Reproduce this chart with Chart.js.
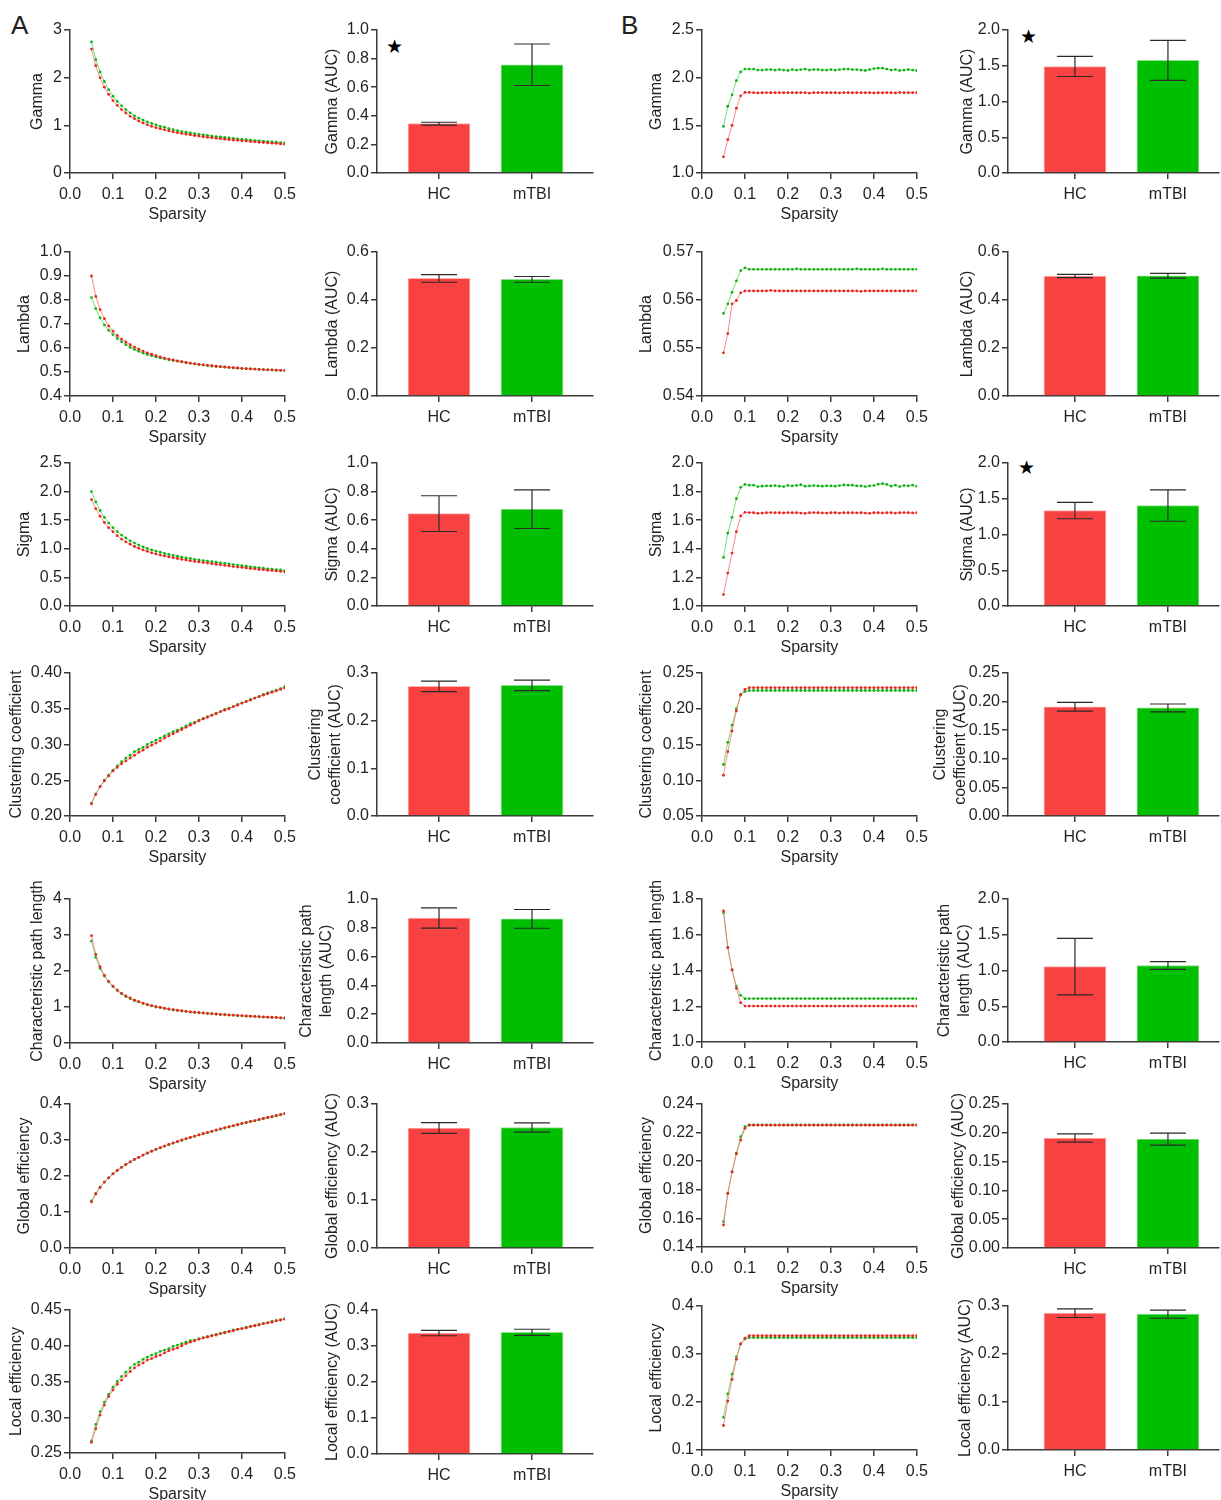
<!DOCTYPE html>
<html lang="en">
<head>
<meta charset="UTF-8">
<title>Network metrics across sparsity</title>
<style>
  body { margin: 0; background: #fff; font-family: "Liberation Sans", Arial, sans-serif; }
  #wrap { position: relative; width: 1221px; height: 1500px; overflow: hidden; }
  #wrap canvas { position: absolute; }
  .panel { position: absolute; font-size: 26px; color: #231f20; line-height: 1; }
  .star { position: absolute; font-size: 19px; color: #000; line-height: 1; font-family: "DejaVu Sans", sans-serif; }
</style>
</head>
<body>
<div id="wrap">
  <div class="panel" style="left:11px;top:12px;">A</div>
  <div class="panel" style="left:621px;top:12px;">B</div>
  <div class="star" style="left:386px;top:37px;">★</div>
  <div class="star" style="left:1020px;top:27px;">★</div>
  <div class="star" style="left:1018px;top:458px;">★</div>
</div>
<script src="https://cdn.jsdelivr.net/npm/chart.js"></script>
<script>
// ---- data ----
const sparsity = [
  0.05, 0.06, 0.07, 0.08, 0.09, 0.10, 0.11, 0.12, 0.13, 0.14,
  0.15, 0.16, 0.17, 0.18, 0.19, 0.20, 0.21, 0.22, 0.23, 0.24,
  0.25, 0.26, 0.27, 0.28, 0.29, 0.30, 0.31, 0.32, 0.33, 0.34,
  0.35, 0.36, 0.37, 0.38, 0.39, 0.40, 0.41, 0.42, 0.43, 0.44,
  0.45, 0.46, 0.47, 0.48, 0.49, 0.50
];
const groups = ['HC', 'mTBI'];

// panel A curves
const gammaHC_A = [
  2.60, 2.25, 2.00, 1.80, 1.65, 1.52, 1.42, 1.33, 1.26, 1.19,
  1.14, 1.09, 1.05, 1.01, 0.98, 0.95, 0.93, 0.905, 0.885, 0.865,
  0.845, 0.83, 0.815, 0.80, 0.785, 0.775, 0.76, 0.75, 0.74, 0.73,
  0.72, 0.71, 0.70, 0.69, 0.685, 0.675, 0.67, 0.66, 0.655, 0.645,
  0.64, 0.63, 0.625, 0.62, 0.61, 0.605
];
const gammaTBI_A = [
  2.75, 2.38, 2.12, 1.92, 1.75, 1.61, 1.50, 1.41, 1.33, 1.26,
  1.20, 1.15, 1.11, 1.07, 1.04, 1.01, 0.98, 0.96, 0.93, 0.91,
  0.89, 0.87, 0.855, 0.84, 0.825, 0.81, 0.80, 0.79, 0.775, 0.765,
  0.755, 0.745, 0.735, 0.725, 0.715, 0.705, 0.70, 0.69, 0.68, 0.675,
  0.665, 0.66, 0.65, 0.645, 0.635, 0.63
];
const lambdaHC_A = [
  0.90, 0.815, 0.76, 0.722, 0.692, 0.67, 0.652, 0.637, 0.625, 0.614,
  0.604, 0.595, 0.587, 0.58, 0.574, 0.568, 0.563, 0.558, 0.554, 0.55,
  0.546, 0.543, 0.54, 0.537, 0.534, 0.532, 0.53, 0.528, 0.526, 0.524,
  0.522, 0.521, 0.519, 0.518, 0.517, 0.515, 0.514, 0.513, 0.512, 0.511,
  0.51, 0.509, 0.509, 0.508, 0.507, 0.507
];
const lambdaTBI_A = [
  0.81, 0.764, 0.726, 0.696, 0.674, 0.656, 0.64, 0.626, 0.614, 0.603,
  0.594, 0.586, 0.579, 0.573, 0.568, 0.563, 0.559, 0.555, 0.551, 0.548,
  0.545, 0.542, 0.539, 0.536, 0.534, 0.531, 0.529, 0.527, 0.525, 0.523,
  0.522, 0.52, 0.519, 0.517, 0.516, 0.515, 0.514, 0.513, 0.512, 0.511,
  0.51, 0.509, 0.508, 0.507, 0.507, 0.506
];
const sigmaHC_A = [
  1.86, 1.70, 1.57, 1.46, 1.37, 1.30, 1.23, 1.17, 1.12, 1.08,
  1.04, 1.01, 0.98, 0.955, 0.93, 0.91, 0.89, 0.875, 0.86, 0.845,
  0.83, 0.815, 0.805, 0.79, 0.78, 0.77, 0.76, 0.75, 0.74, 0.73,
  0.72, 0.71, 0.70, 0.69, 0.68, 0.675, 0.665, 0.655, 0.65, 0.64,
  0.635, 0.625, 0.62, 0.61, 0.605, 0.595
];
const sigmaTBI_A = [
  2.00, 1.82, 1.67, 1.55, 1.45, 1.37, 1.30, 1.24, 1.19, 1.14,
  1.10, 1.065, 1.035, 1.005, 0.98, 0.96, 0.94, 0.92, 0.90, 0.885,
  0.87, 0.855, 0.84, 0.83, 0.815, 0.805, 0.795, 0.785, 0.775, 0.765,
  0.755, 0.745, 0.735, 0.725, 0.715, 0.705, 0.695, 0.685, 0.675, 0.67,
  0.66, 0.65, 0.645, 0.635, 0.63, 0.62
];
const clustHC_A = [
  0.217, 0.230, 0.241, 0.249, 0.256, 0.263, 0.268, 0.273, 0.277, 0.281,
  0.285, 0.289, 0.292, 0.296, 0.299, 0.302, 0.305, 0.309, 0.312, 0.315,
  0.318, 0.321, 0.324, 0.327, 0.330, 0.333, 0.336, 0.338, 0.341, 0.343,
  0.346, 0.348, 0.350, 0.353, 0.355, 0.358, 0.360, 0.362, 0.365, 0.367,
  0.369, 0.371, 0.373, 0.375, 0.377, 0.379
];
const clustTBI_A = [
  0.218, 0.231, 0.241, 0.250, 0.257, 0.264, 0.270, 0.276, 0.281, 0.285,
  0.290, 0.293, 0.296, 0.300, 0.303, 0.306, 0.309, 0.312, 0.315, 0.318,
  0.320, 0.323, 0.326, 0.329, 0.331, 0.334, 0.336, 0.339, 0.341, 0.344,
  0.346, 0.349, 0.351, 0.353, 0.356, 0.358, 0.360, 0.363, 0.365, 0.367,
  0.370, 0.372, 0.374, 0.376, 0.378, 0.381
];
const cplHC_A = [
  2.98, 2.46, 2.12, 1.88, 1.71, 1.58, 1.47, 1.38, 1.31, 1.25,
  1.19, 1.15, 1.11, 1.07, 1.04, 1.01, 0.99, 0.965, 0.945, 0.925,
  0.91, 0.895, 0.88, 0.865, 0.855, 0.845, 0.835, 0.825, 0.815, 0.805,
  0.795, 0.79, 0.78, 0.775, 0.765, 0.76, 0.75, 0.745, 0.74, 0.73,
  0.725, 0.72, 0.715, 0.71, 0.70, 0.695
];
const cplTBI_A = [
  2.83, 2.38, 2.07, 1.86, 1.70, 1.57, 1.46, 1.37, 1.29, 1.23,
  1.18, 1.14, 1.10, 1.06, 1.03, 1.00, 0.985, 0.96, 0.94, 0.92,
  0.905, 0.89, 0.875, 0.86, 0.85, 0.84, 0.83, 0.82, 0.81, 0.80,
  0.79, 0.785, 0.775, 0.77, 0.76, 0.755, 0.745, 0.74, 0.735, 0.725,
  0.72, 0.715, 0.71, 0.705, 0.695, 0.69
];
const geHC_A = [
  0.128, 0.150, 0.168, 0.183, 0.195, 0.206, 0.216, 0.224, 0.232, 0.239,
  0.246, 0.252, 0.258, 0.264, 0.269, 0.274, 0.279, 0.283, 0.288, 0.292,
  0.296, 0.300, 0.304, 0.307, 0.311, 0.314, 0.318, 0.321, 0.324, 0.328,
  0.331, 0.334, 0.337, 0.340, 0.343, 0.346, 0.349, 0.352, 0.354, 0.357,
  0.360, 0.363, 0.365, 0.368, 0.371, 0.373
];
const geTBI_A = [
  0.131, 0.152, 0.169, 0.183, 0.195, 0.206, 0.215, 0.224, 0.232, 0.239,
  0.246, 0.252, 0.258, 0.263, 0.269, 0.274, 0.278, 0.283, 0.287, 0.291,
  0.295, 0.299, 0.303, 0.307, 0.310, 0.314, 0.317, 0.320, 0.324, 0.327,
  0.330, 0.333, 0.336, 0.339, 0.342, 0.345, 0.348, 0.351, 0.353, 0.356,
  0.359, 0.362, 0.364, 0.367, 0.370, 0.373
];
const leHC_A = [
  0.265, 0.284, 0.303, 0.317, 0.329, 0.338, 0.346, 0.352, 0.358, 0.364,
  0.369, 0.373, 0.376, 0.380, 0.382, 0.385, 0.387, 0.390, 0.393, 0.395,
  0.397, 0.400, 0.403, 0.405, 0.407, 0.409, 0.411, 0.412, 0.414, 0.415,
  0.417, 0.418, 0.420, 0.421, 0.423, 0.424, 0.425, 0.427, 0.428, 0.429,
  0.431, 0.432, 0.433, 0.435, 0.436, 0.437
];
const leTBI_A = [
  0.267, 0.290, 0.308, 0.321, 0.332, 0.342, 0.350, 0.357, 0.363, 0.369,
  0.374, 0.377, 0.381, 0.384, 0.387, 0.389, 0.392, 0.394, 0.396, 0.399,
  0.401, 0.403, 0.405, 0.407, 0.408, 0.410, 0.411, 0.413, 0.414, 0.416,
  0.417, 0.419, 0.420, 0.422, 0.423, 0.424, 0.426, 0.427, 0.428, 0.430,
  0.431, 0.432, 0.434, 0.435, 0.436, 0.438
];

// panel B curves
const gammaHC_B = [
  1.17, 1.35, 1.50, 1.68, 1.81, 1.845, 1.845, 1.843, 1.84, 1.842,
  1.843, 1.842, 1.843, 1.843, 1.842, 1.843, 1.843, 1.842, 1.843, 1.843,
  1.838, 1.843, 1.843, 1.843, 1.842, 1.843, 1.842, 1.84, 1.843, 1.843,
  1.842, 1.842, 1.843, 1.842, 1.842, 1.84, 1.842, 1.842, 1.843, 1.842,
  1.84, 1.845, 1.843, 1.843, 1.843, 1.843
];
const gammaTBI_B = [
  1.49, 1.70, 1.82, 1.97, 2.06, 2.09, 2.09, 2.09, 2.08, 2.08,
  2.085, 2.085, 2.08, 2.085, 2.08, 2.075, 2.085, 2.08, 2.085, 2.09,
  2.08, 2.085, 2.085, 2.08, 2.08, 2.085, 2.08, 2.085, 2.09, 2.09,
  2.085, 2.085, 2.08, 2.075, 2.085, 2.095, 2.10, 2.10, 2.09, 2.08,
  2.085, 2.075, 2.08, 2.085, 2.08, 2.075
];
const lambdaHC_B = [
  0.5490, 0.5530, 0.5592, 0.5599, 0.5615, 0.5619, 0.5619, 0.5619, 0.5619, 0.5619,
  0.5619, 0.5620, 0.5619, 0.5619, 0.5619, 0.5619, 0.5619, 0.5619, 0.5619, 0.5619,
  0.5619, 0.5619, 0.5619, 0.5619, 0.5619, 0.5619, 0.5619, 0.5619, 0.5619, 0.5619,
  0.5619, 0.5619, 0.5618, 0.5619, 0.5619, 0.5619, 0.5619, 0.5619, 0.5619, 0.5619,
  0.5619, 0.5619, 0.5619, 0.5619, 0.5619, 0.5619
];
const lambdaTBI_B = [
  0.5572, 0.5592, 0.5616, 0.5640, 0.5661, 0.5667, 0.5664, 0.5664, 0.5664, 0.5664,
  0.5664, 0.5664, 0.5664, 0.5664, 0.5664, 0.5664, 0.5664, 0.5665, 0.5664, 0.5664,
  0.5664, 0.5664, 0.5664, 0.5664, 0.5664, 0.5664, 0.5664, 0.5664, 0.5664, 0.5664,
  0.5664, 0.5665, 0.5664, 0.5664, 0.5664, 0.5664, 0.5664, 0.5665, 0.5664, 0.5664,
  0.5664, 0.5664, 0.5664, 0.5664, 0.5664, 0.5664
];
const sigmaHC_B = [
  1.08, 1.23, 1.37, 1.52, 1.63, 1.655, 1.653, 1.652, 1.648, 1.65,
  1.652, 1.653, 1.652, 1.652, 1.651, 1.653, 1.652, 1.652, 1.65, 1.648,
  1.652, 1.653, 1.652, 1.651, 1.65, 1.652, 1.652, 1.65, 1.652, 1.652,
  1.652, 1.651, 1.652, 1.65, 1.648, 1.652, 1.652, 1.651, 1.652, 1.652,
  1.65, 1.652, 1.653, 1.652, 1.651, 1.652
];
const sigmaTBI_B = [
  1.34, 1.51, 1.62, 1.75, 1.83, 1.85, 1.845, 1.845, 1.835, 1.838,
  1.84, 1.84, 1.842, 1.838, 1.835, 1.843, 1.84, 1.843, 1.848, 1.838,
  1.84, 1.842, 1.84, 1.838, 1.84, 1.84, 1.838, 1.842, 1.846, 1.845,
  1.845, 1.84, 1.84, 1.835, 1.84, 1.842, 1.852, 1.855, 1.85, 1.838,
  1.845, 1.835, 1.842, 1.84, 1.845, 1.838
];
const clustHC_B = [
  0.107, 0.140, 0.169, 0.197, 0.220, 0.227, 0.2295, 0.2295, 0.2295, 0.2295,
  0.2295, 0.2295, 0.2295, 0.2295, 0.2295, 0.2295, 0.2295, 0.2295, 0.2295, 0.2295,
  0.2295, 0.2295, 0.2295, 0.2295, 0.2295, 0.2295, 0.2295, 0.2295, 0.2295, 0.2295,
  0.2295, 0.2295, 0.2295, 0.2295, 0.2295, 0.2295, 0.2295, 0.2295, 0.2295, 0.2295,
  0.2295, 0.2295, 0.2295, 0.2295, 0.2295, 0.2295
];
const clustTBI_B = [
  0.122, 0.153, 0.177, 0.200, 0.219, 0.224, 0.2255, 0.2255, 0.2255, 0.2255,
  0.2255, 0.2255, 0.2255, 0.2255, 0.2255, 0.2255, 0.2255, 0.2255, 0.2255, 0.2255,
  0.2255, 0.2255, 0.2255, 0.2255, 0.2255, 0.2255, 0.2255, 0.2255, 0.2255, 0.2255,
  0.2255, 0.2255, 0.2255, 0.2255, 0.2255, 0.2255, 0.2255, 0.2255, 0.2255, 0.2255,
  0.2255, 0.2255, 0.2255, 0.2255, 0.2255, 0.2255
];
const cplHC_B = [
  1.734, 1.528, 1.403, 1.300, 1.220, 1.201, 1.201, 1.201, 1.201, 1.201,
  1.201, 1.201, 1.201, 1.201, 1.201, 1.201, 1.201, 1.201, 1.201, 1.201,
  1.201, 1.201, 1.201, 1.201, 1.201, 1.201, 1.201, 1.201, 1.201, 1.201,
  1.201, 1.201, 1.201, 1.201, 1.201, 1.201, 1.201, 1.201, 1.201, 1.201,
  1.201, 1.201, 1.201, 1.201, 1.201, 1.201
];
const cplTBI_B = [
  1.723, 1.528, 1.403, 1.313, 1.261, 1.242, 1.243, 1.243, 1.243, 1.243,
  1.243, 1.243, 1.243, 1.243, 1.243, 1.243, 1.243, 1.243, 1.243, 1.243,
  1.243, 1.243, 1.243, 1.243, 1.243, 1.243, 1.243, 1.243, 1.243, 1.243,
  1.243, 1.243, 1.243, 1.243, 1.243, 1.243, 1.243, 1.243, 1.243, 1.243,
  1.243, 1.243, 1.243, 1.243, 1.243, 1.243
];
const geHC_B = [
  0.1554, 0.1775, 0.1925, 0.2052, 0.2148, 0.2230, 0.2252, 0.2252, 0.2252, 0.2252,
  0.2252, 0.2252, 0.2252, 0.2252, 0.2252, 0.2252, 0.2252, 0.2252, 0.2252, 0.2252,
  0.2252, 0.2252, 0.2252, 0.2252, 0.2252, 0.2252, 0.2252, 0.2252, 0.2252, 0.2252,
  0.2252, 0.2252, 0.2252, 0.2252, 0.2252, 0.2252, 0.2252, 0.2252, 0.2252, 0.2252,
  0.2252, 0.2252, 0.2252, 0.2252, 0.2252, 0.2252
];
const geTBI_B = [
  0.1577, 0.1775, 0.1927, 0.2055, 0.2171, 0.2241, 0.2254, 0.2254, 0.2254, 0.2254,
  0.2254, 0.2254, 0.2254, 0.2254, 0.2254, 0.2254, 0.2254, 0.2254, 0.2254, 0.2254,
  0.2254, 0.2254, 0.2254, 0.2254, 0.2254, 0.2254, 0.2254, 0.2254, 0.2254, 0.2254,
  0.2254, 0.2254, 0.2254, 0.2254, 0.2254, 0.2254, 0.2254, 0.2254, 0.2254, 0.2254,
  0.2254, 0.2254, 0.2254, 0.2254, 0.2254, 0.2254
];
const leHC_B = [
  0.151, 0.202, 0.247, 0.289, 0.321, 0.333, 0.338, 0.338, 0.338, 0.338,
  0.338, 0.338, 0.338, 0.338, 0.338, 0.338, 0.338, 0.338, 0.338, 0.338,
  0.338, 0.338, 0.338, 0.338, 0.338, 0.338, 0.338, 0.338, 0.338, 0.338,
  0.338, 0.338, 0.338, 0.338, 0.338, 0.338, 0.338, 0.338, 0.338, 0.338,
  0.338, 0.338, 0.338, 0.338, 0.338, 0.338
];
const leTBI_B = [
  0.168, 0.217, 0.258, 0.294, 0.321, 0.331, 0.334, 0.334, 0.334, 0.334,
  0.334, 0.334, 0.334, 0.334, 0.334, 0.334, 0.334, 0.334, 0.334, 0.334,
  0.334, 0.334, 0.334, 0.334, 0.334, 0.334, 0.334, 0.334, 0.334, 0.334,
  0.334, 0.334, 0.334, 0.334, 0.334, 0.334, 0.334, 0.334, 0.334, 0.334,
  0.334, 0.334, 0.334, 0.334, 0.334, 0.334
];

// AUC bars: [HC, mTBI] means and error half-widths
const gammaAuc_A = [0.345, 0.757],   gammaErr_A = [0.010, 0.145];
const lambdaAuc_A = [0.490, 0.486],  lambdaErr_A = [0.016, 0.012];
const sigmaAuc_A = [0.646, 0.677],   sigmaErr_A = [0.125, 0.135];
const clustAuc_A = [0.272, 0.274],   clustErr_A = [0.011, 0.011];
const cplAuc_A = [0.868, 0.862],     cplErr_A = [0.070, 0.065];
const geAuc_A = [0.250, 0.251],      geErr_A = [0.011, 0.0095];
const leAuc_A = [0.336, 0.338],      leErr_A = [0.0075, 0.0085];

const gammaAuc_B = [1.49, 1.575],    gammaErr_B = [0.14, 0.28];
const lambdaAuc_B = [0.500, 0.501],  lambdaErr_B = [0.007, 0.010];
const sigmaAuc_B = [1.335, 1.405],   sigmaErr_B = [0.115, 0.22];
const clustAuc_B = [0.191, 0.189],   clustErr_B = [0.0075, 0.0068];
const cplAuc_B = [1.055, 1.070],     cplErr_B = [0.395, 0.055];
const geAuc_B = [0.191, 0.189],      geErr_B = [0.0072, 0.0105];
const leAuc_B = [0.285, 0.283],      leErr_B = [0.009, 0.0085];

// ---- drawing ----
Chart.defaults.font.family = '"Liberation Sans", Arial, sans-serif';
Chart.defaults.font.size = 16;
Chart.defaults.color = '#231f20';
Chart.defaults.animation = false;

const AXIS = '#3a3a3a';
const LEFT_ROOM = 90;   // canvas space left of the y axis line
const PAD_TOP = 40;     // room for long rotated titles
const X_ROOM = 54;      // height below the x axis line

const errorBars = {
  id: 'errorBars',
  afterDatasetsDraw(chart) {
    const ds = chart.data.datasets[0];
    const meta = chart.getDatasetMeta(0);
    const y = chart.scales.y;
    const ctx = chart.ctx;
    ctx.save();
    ctx.strokeStyle = '#2a2a2a';
    ctx.lineWidth = 1.2;
    meta.data.forEach((bar, i) => {
      const m = ds.data[i].y, e = ds.errs[i];
      const top = y.getPixelForValue(m + e), bot = y.getPixelForValue(m - e);
      ctx.beginPath();
      ctx.moveTo(bar.x, top); ctx.lineTo(bar.x, bot);
      ctx.moveTo(bar.x - 18, top); ctx.lineTo(bar.x + 18, top);
      ctx.moveTo(bar.x - 18, bot); ctx.lineTo(bar.x + 18, bot);
      ctx.stroke();
    });
    ctx.restore();
  }
};

function makeCanvas(axisX, top, w, h) {
  const c = document.createElement('canvas');
  c.width = LEFT_ROOM + w + 16;
  c.height = PAD_TOP + h + X_ROOM + 2;
  c.style.left = (axisX - LEFT_ROOM) + 'px';
  c.style.top = (top - PAD_TOP) + 'px';
  document.getElementById('wrap').appendChild(c);
  return c;
}

function yScale(min, max, step, dec, title, padL) {
  return {
    min: min, max: max,
    ticks: { stepSize: step, padding: 2, callback: v => v.toFixed(dec) },
    grid: { drawOnChartArea: false, tickLength: 6, color: AXIS, lineWidth: 1.5 },
    border: { color: AXIS, width: 1.5 },
    title: { display: true, text: title, padding: { top: 0, bottom: 0 } },
    afterFit: s => { s.width = LEFT_ROOM - padL; }
  };
}

function lineChart(axisX, top, h, title, titleX, yMin, yMax, step, dec, hc, tbi) {
  const w = 216;
  const c = makeCanvas(axisX, top, w, h);
  const padL = titleX - (axisX - LEFT_ROOM) - 9.6;
  const pts = arr => sparsity.map((s, i) => ({ x: s, y: arr[i] }));
  new Chart(c, {
    type: 'line',
    data: {
      datasets: [
        { label: 'HC', data: pts(hc), borderColor: 'rgba(250,120,120,0.85)', borderWidth: 1,
          pointRadius: 1.4, pointBackgroundColor: '#e8241f', pointBorderWidth: 0, tension: 0 },
        { label: 'mTBI', data: pts(tbi), borderColor: 'rgba(95,215,95,0.85)', borderWidth: 1,
          pointRadius: 1.4, pointBackgroundColor: '#12b012', pointBorderWidth: 0, tension: 0 }
      ]
    },
    options: {
      responsive: false,
      layout: { padding: { left: padL, top: PAD_TOP, right: 16, bottom: 2 } },
      plugins: { legend: { display: false }, tooltip: { enabled: false } },
      scales: {
        x: {
          type: 'linear', min: 0, max: 0.5,
          ticks: { stepSize: 0.1, padding: 6, callback: v => v.toFixed(1) },
          grid: { drawOnChartArea: false, tickLength: 6, color: AXIS, lineWidth: 1.5 },
          border: { color: AXIS, width: 1.5 },
          title: { display: true, text: 'Sparsity', padding: { top: 0, bottom: 2.4 } },
          afterFit: s => { s.height = X_ROOM; }
        },
        y: yScale(yMin, yMax, step, dec, title, padL)
      }
    }
  });
}

function barChart(axisX, top, h, w, title, titleX, yMin, yMax, step, dec, means, errs, xMin, xMax) {
  const c = makeCanvas(axisX, top, w, h);
  const padL = titleX - (axisX - LEFT_ROOM) - 9.6;
  new Chart(c, {
    type: 'bar',
    data: {
      datasets: [{
        data: means.map((m, i) => ({ x: i + 1, y: m })),
        errs: errs,
        backgroundColor: ['#f84242', '#00bf00'],
        borderColor: ['#ffb0b0', '#8fe08f'],
        borderWidth: 1,
        barThickness: 62
      }]
    },
    options: {
      responsive: false,
      layout: { padding: { left: padL, top: PAD_TOP, right: 16, bottom: 2 } },
      plugins: { legend: { display: false }, tooltip: { enabled: false } },
      scales: {
        x: {
          type: 'linear', min: xMin, max: xMax, offset: false,
          afterBuildTicks: s => { s.ticks = [{ value: 1 }, { value: 2 }]; },
          ticks: { padding: 6, callback: v => groups[v - 1] },
          grid: { offset: false, drawOnChartArea: false, tickLength: 6, color: AXIS, lineWidth: 1.5 },
          border: { color: AXIS, width: 1.5 },
          afterFit: s => { s.height = X_ROOM; }
        },
        y: yScale(yMin, yMax, step, dec, title, padL)
      }
    },
    plugins: [errorBars]
  });
}

// column positions
const A_LINE = 70, A_BAR = 377, B_LINE = 702, B_BAR = 1008;
const A_BAR_W = 216, B_BAR_W = 211;

// row 1 - Gamma
lineChart(A_LINE, 30, 143, 'Gamma', 38, 0, 3, 1, 0, gammaHC_A, gammaTBI_A);
barChart(A_BAR, 30, 143, A_BAR_W, 'Gamma (AUC)', 333, 0, 1, 0.2, 1, gammaAuc_A, gammaErr_A, 0.333, 2.656);
lineChart(B_LINE, 30, 143, 'Gamma', 657, 1, 2.5, 0.5, 1, gammaHC_B, gammaTBI_B);
barChart(B_BAR, 30, 143, B_BAR_W, 'Gamma (AUC)', 968, 0, 2, 0.5, 1, gammaAuc_B, gammaErr_B, 0.28, 2.549);

// row 2 - Lambda
lineChart(A_LINE, 252, 144, 'Lambda', 25, 0.4, 1.0, 0.1, 1, lambdaHC_A, lambdaTBI_A);
barChart(A_BAR, 252, 144, A_BAR_W, 'Lambda (AUC)', 333, 0, 0.6, 0.2, 1, lambdaAuc_A, lambdaErr_A, 0.333, 2.656);
lineChart(B_LINE, 252, 144, 'Lambda', 647, 0.54, 0.57, 0.01, 2, lambdaHC_B, lambdaTBI_B);
barChart(B_BAR, 252, 144, B_BAR_W, 'Lambda (AUC)', 968, 0, 0.6, 0.2, 1, lambdaAuc_B, lambdaErr_B, 0.28, 2.549);

// row 3 - Sigma
lineChart(A_LINE, 463, 143, 'Sigma', 25, 0, 2.5, 0.5, 1, sigmaHC_A, sigmaTBI_A);
barChart(A_BAR, 463, 143, A_BAR_W, 'Sigma (AUC)', 333, 0, 1, 0.2, 1, sigmaAuc_A, sigmaErr_A, 0.333, 2.656);
lineChart(B_LINE, 463, 143, 'Sigma', 657, 1, 2, 0.2, 1, sigmaHC_B, sigmaTBI_B);
barChart(B_BAR, 463, 143, B_BAR_W, 'Sigma (AUC)', 968, 0, 2, 0.5, 1, sigmaAuc_B, sigmaErr_B, 0.28, 2.549);

// row 4 - Clustering coefficient
lineChart(A_LINE, 673, 143, 'Clustering coefficient', 17, 0.2, 0.4, 0.05, 2, clustHC_A, clustTBI_A);
barChart(A_BAR, 673, 143, A_BAR_W, ['Clustering', 'coefficient (AUC)'], 316, 0, 0.3, 0.1, 1, clustAuc_A, clustErr_A, 0.333, 2.656);
lineChart(B_LINE, 673, 143, 'Clustering coefficient', 647, 0.05, 0.25, 0.05, 2, clustHC_B, clustTBI_B);
barChart(B_BAR, 673, 143, B_BAR_W, ['Clustering', 'coefficient (AUC)'], 941, 0, 0.25, 0.05, 2, clustAuc_B, clustErr_B, 0.28, 2.549);

// row 5 - Characteristic path length
lineChart(A_LINE, 899, 144, 'Characteristic path length', 38, 0, 4, 1, 0, cplHC_A, cplTBI_A);
barChart(A_BAR, 899, 144, A_BAR_W, ['Characteristic path', 'length (AUC)'], 307, 0, 1, 0.2, 1, cplAuc_A, cplErr_A, 0.333, 2.656);
lineChart(B_LINE, 899, 143, 'Characteristic path length', 657, 1, 1.8, 0.2, 1, cplHC_B, cplTBI_B);
barChart(B_BAR, 899, 143, B_BAR_W, ['Characteristic path', 'length (AUC)'], 945, 0, 2, 0.5, 1, cplAuc_B, cplErr_B, 0.28, 2.549);

// row 6 - Global efficiency
lineChart(A_LINE, 1104, 144, 'Global efficiency', 25, 0, 0.4, 0.1, 1, geHC_A, geTBI_A);
barChart(A_BAR, 1104, 144, A_BAR_W, 'Global efficiency (AUC)', 333, 0, 0.3, 0.1, 1, geAuc_A, geErr_A, 0.333, 2.656);
lineChart(B_LINE, 1104, 143, 'Global efficiency', 647, 0.14, 0.24, 0.02, 2, geHC_B, geTBI_B);
barChart(B_BAR, 1104, 144, B_BAR_W, 'Global efficiency (AUC)', 959, 0, 0.25, 0.05, 2, geAuc_B, geErr_B, 0.28, 2.549);

// row 7 - Local efficiency
lineChart(A_LINE, 1310, 143, 'Local efficiency', 17, 0.25, 0.45, 0.05, 2, leHC_A, leTBI_A);
barChart(A_BAR, 1310, 144, A_BAR_W, 'Local efficiency (AUC)', 333, 0, 0.4, 0.1, 1, leAuc_A, leErr_A, 0.333, 2.656);
lineChart(B_LINE, 1306, 144, 'Local efficiency', 657, 0.1, 0.4, 0.1, 1, leHC_B, leTBI_B);
barChart(B_BAR, 1306, 144, B_BAR_W, 'Local efficiency (AUC)', 966, 0, 0.3, 0.1, 1, leAuc_B, leErr_B, 0.28, 2.549);
</script>
</body>
</html>
